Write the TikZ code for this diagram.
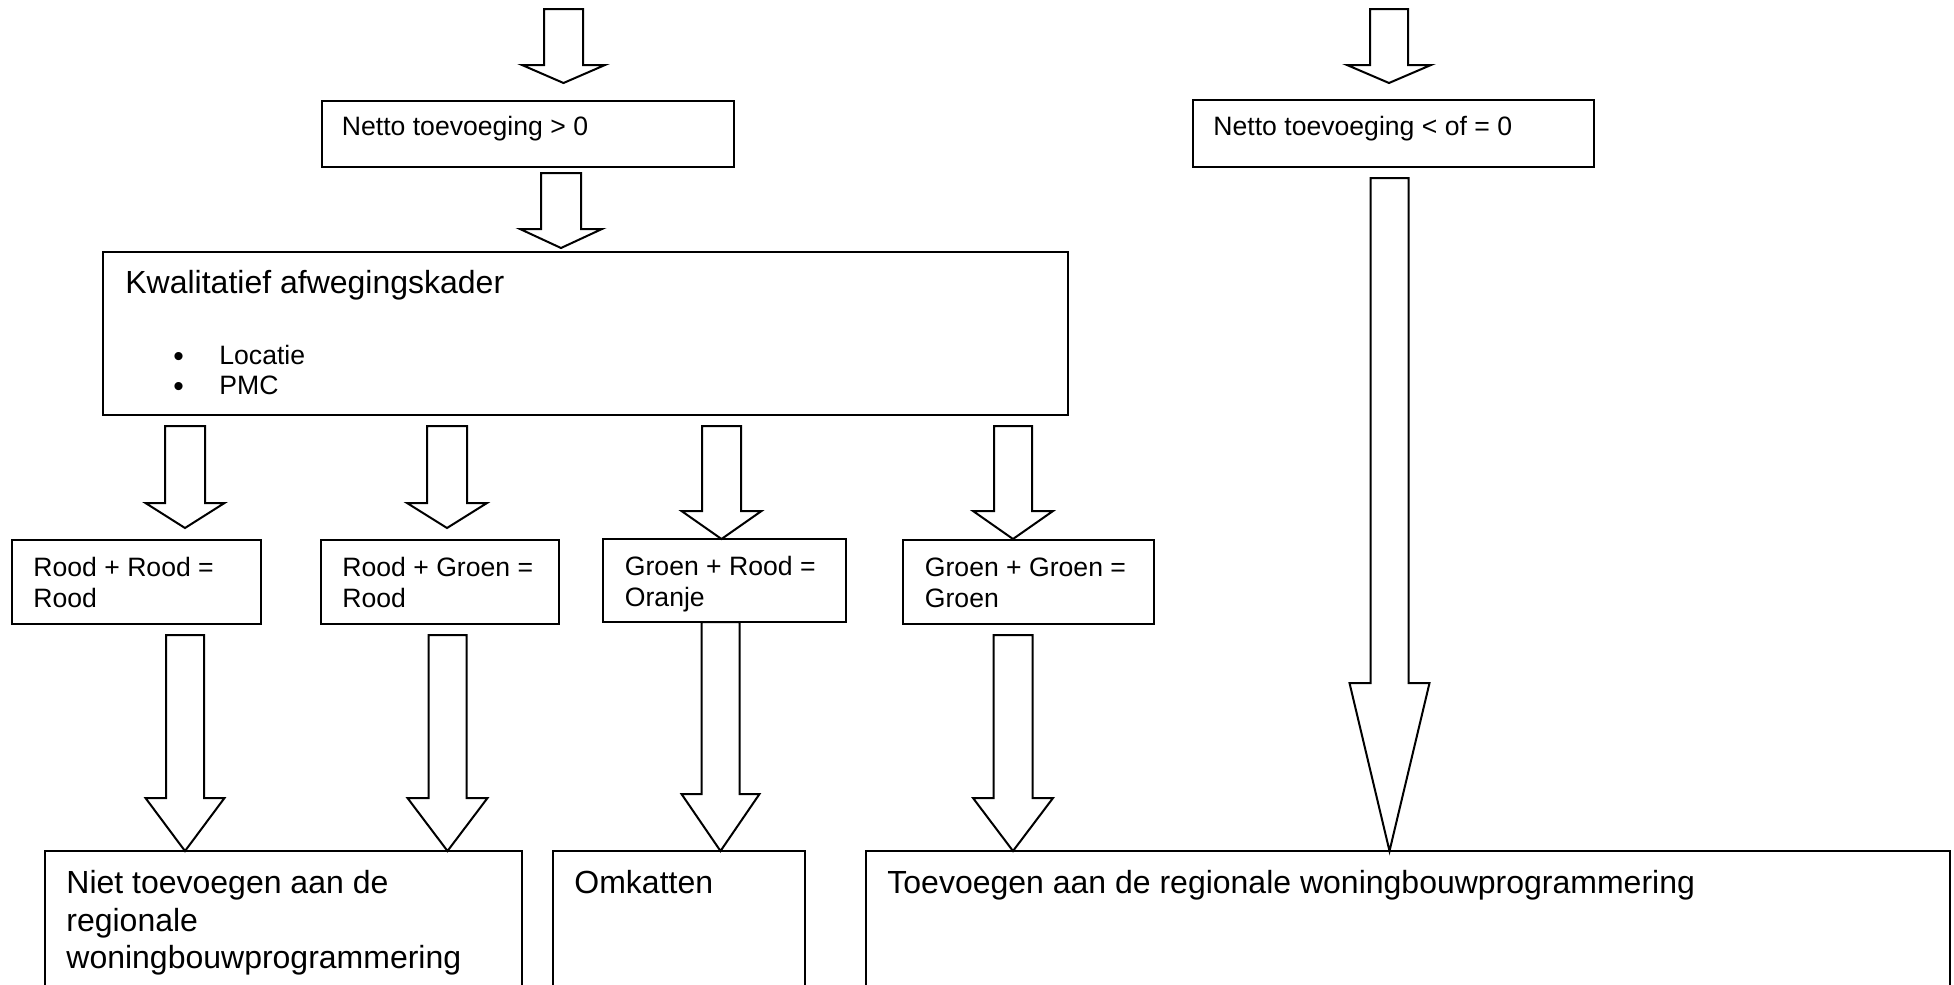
\documentclass[tikz,border=0pt]{standalone}
\usepackage{fontspec}
\setmainfont{Liberation Sans}
\usetikzlibrary{fit}
\newcommand\blockarr[6]{\draw[barrow] ({#1-#5},#2) -- ({#1+#5},#2) -- ({#1+#5},#3) -- ({#1+#6},#3) -- (#1,#4) -- ({#1-#6},#3) -- ({#1-#5},#3) -- cycle;}
\begin{document}
\begin{tikzpicture}[x=0.5pt,y=-0.5pt,
  box/.style={draw, line width=1pt, inner sep=0pt},
  sm/.style={anchor=base west, inner sep=0pt, font=\fontsize{13.3}{16}\selectfont},
  lg/.style={anchor=base west, inner sep=0pt, font=\fontsize{16}{19}\selectfont},
  bul/.style={anchor=base west, inner sep=0pt, font=\fontsize{15}{18}\selectfont},
  barrow/.style={draw, line width=1pt, fill=white, line join=miter}]
\useasboundingbox (0,0) rectangle (1954,985);
\clip (0,0) rectangle (1954,985);

% block arrows: centre x, top y, head y, tip y, shaft half width, head half width
\blockarr{563.5}{9}{65}{83}{19.5}{41.5}
\blockarr{561}{173}{229}{248}{20}{41}
\blockarr{1389}{9}{65}{83}{19}{42}
\blockarr{185}{426}{503}{528}{20}{39.5}
\blockarr{447}{426}{503}{528}{20}{40}
\blockarr{721.5}{426}{511}{539}{19.5}{40}
\blockarr{1013}{426}{511}{539}{19}{40}
\blockarr{185}{635}{798}{851}{19}{39.5}
\blockarr{447.5}{635}{798}{851}{19}{40}
\blockarr{720.5}{622}{794}{851}{19}{39}
\blockarr{1013}{635}{798}{851}{19.5}{40}
\blockarr{1389.5}{178}{683}{851}{19}{40}

% top boxes
\node[box, fit={(321.5,101) (734,167)}] (pos) {};
\node[sm] (postxt) at (341.5,135) {Netto toevoeging > 0};
\node[box, fit={(1193,100) (1594,167)}] (neg) {};
\node[sm] (negtxt) at (1213,135) {Netto toevoeging < of = 0};

% kwalitatief
\node[box, fit={(103,252) (1068,415)}] (kwal) {};
\node[lg] (kwaltxt) at (125,293) {Kwalitatief afwegingskader};
\node[bul] (bul1) at (173,366) {\textbullet};
\node[sm] (loc) at (219,364) {Locatie};
\node[bul] (bul2) at (173,396) {\textbullet};
\node[sm] (pmc) at (219,394) {PMC};

% row of four
\node[box, fit={(12,540) (261,624)}] (rr) {};
\node[sm] (rr1) at (33,576) {Rood + Rood =};
\node[sm] (rr2) at (33,607) {Rood};
\node[box, fit={(321,540) (559,624)}] (rg) {};
\node[sm] (rg1) at (342,576) {Rood + Groen =};
\node[sm] (rg2) at (342,607) {Rood};
\node[box, fit={(603,539) (846,622)}] (gr) {};
\node[sm] (gr1) at (624.5,575) {Groen + Rood =};
\node[sm] (gr2) at (624.5,606) {Oranje};
\node[box, fit={(903,540) (1154,624)}] (gg) {};
\node[sm] (gg1) at (924.5,576) {Groen + Groen =};
\node[sm] (gg2) at (924.5,607) {Groen};

% bottom boxes
\node[box, fit={(45,851) (522,1010)}] (niet) {};
\node[lg] (niet1) at (66,893) {Niet toevoegen aan de};
\node[lg] (niet2) at (66,931) {regionale};
\node[lg] (niet3) at (66,968) {woningbouwprogrammering};
\node[box, fit={(553,851) (805,1010)}] (omk) {};
\node[lg] (omktxt) at (574,893) {Omkatten};
\node[box, fit={(866,851) (1950,1010)}] (toe) {};
\node[lg] (toetxt) at (887,893) {Toevoegen aan de regionale woningbouwprogrammering};
\end{tikzpicture}
\end{document}
